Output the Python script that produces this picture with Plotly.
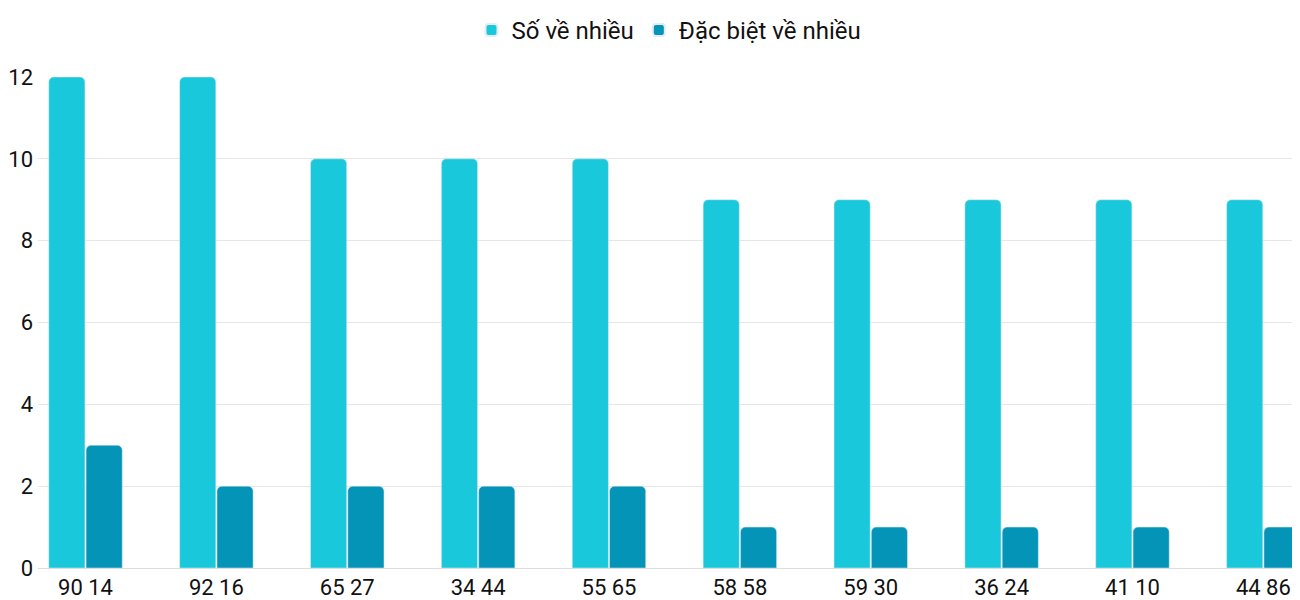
import plotly.graph_objects as go

categories = ["90 14","92 16","65 27","34 44","55 65","58 58","59 30","36 24","41 10","44 86"]
so_ve_nhieu = [12,12,10,10,10,9,9,9,9,9]
dac_biet = [3,2,2,2,2,1,1,1,1,1]

fig = go.Figure()
fig.add_bar(x=categories, y=so_ve_nhieu, name="Số về nhiều", marker=dict(color="#1ac8db", cornerradius=5))
fig.add_bar(x=categories, y=dac_biet, name="Đặc biệt về nhiều", marker=dict(color="#0494b8", cornerradius=5))
fig.update_layout(
    width=1292, height=592, barmode="group", bargap=0.43, bargroupgap=0.03,
    plot_bgcolor="white", paper_bgcolor="white",
    font=dict(family="Roboto", size=22, color="#111"),
    margin=dict(l=30, r=0, t=69, b=26),
    legend=dict(orientation="h", x=0.5, xanchor="center", y=1.0, yanchor="top", yref="container",
                font=dict(size=24), itemsizing="constant"),
    xaxis=dict(range=[-0.363, 9.28], showgrid=False, ticks="", showline=True, linecolor="#ddd",
               ticklabelstandoff=0),
    yaxis=dict(range=[0, 12], dtick=2, gridcolor="#e6e6e6", zeroline=False, ticks="", ticklabelstandoff=4),
)
fig.write_html("out.html")
